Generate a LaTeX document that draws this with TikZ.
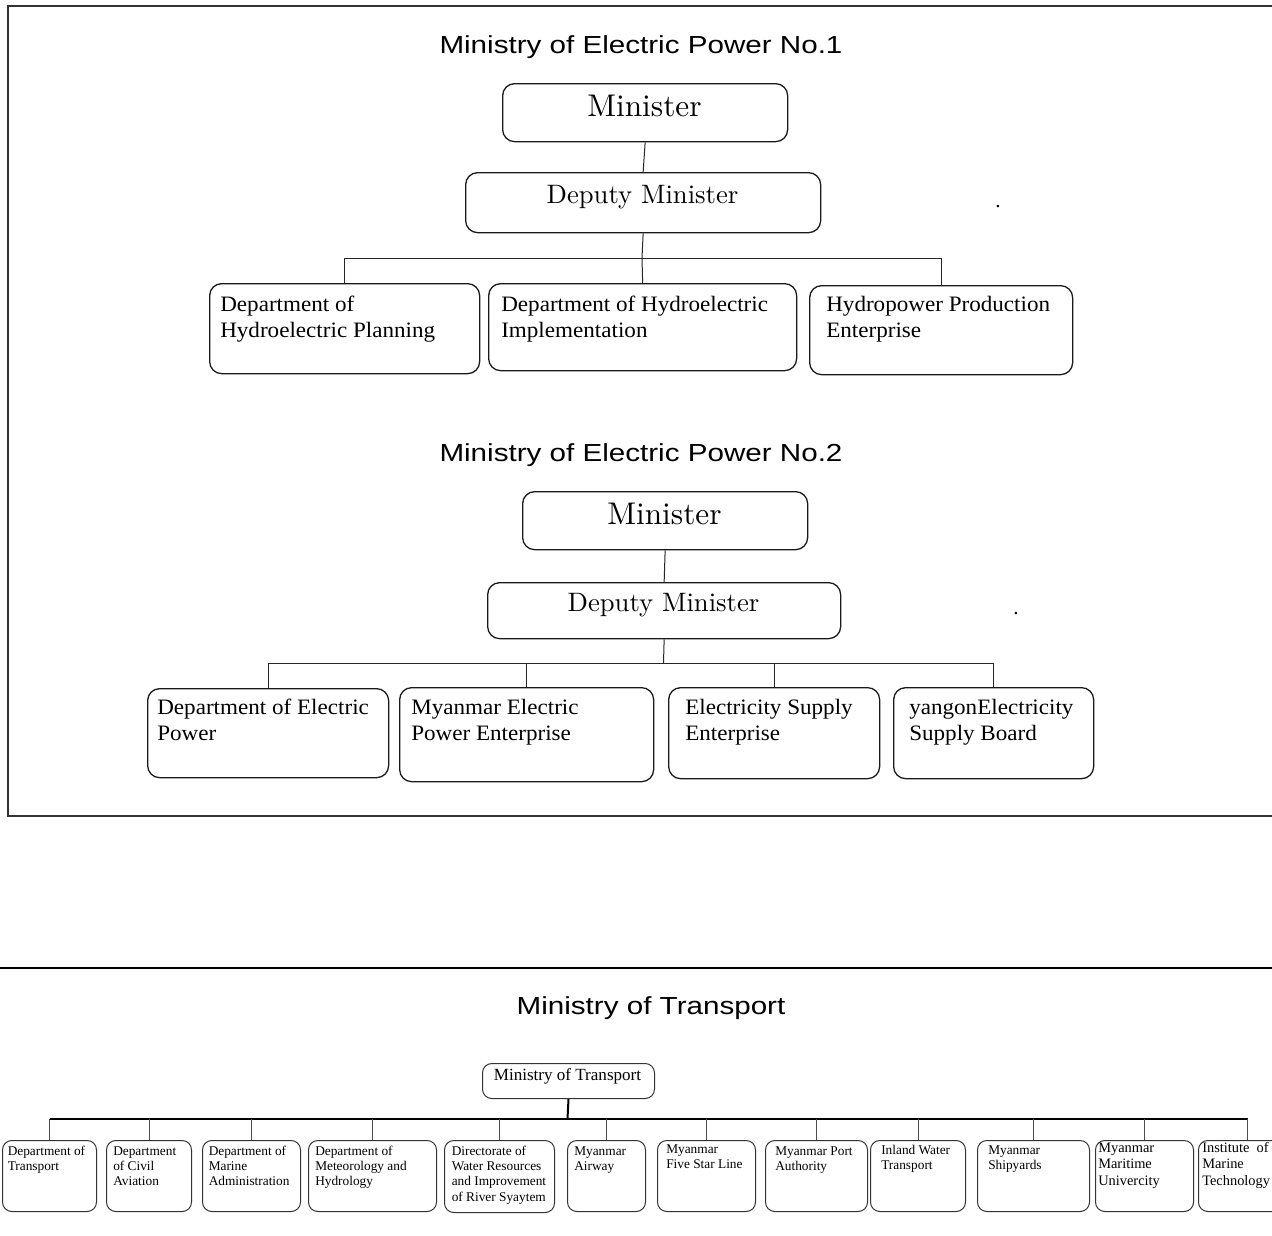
\documentclass[tikz,border=0pt]{standalone}
\usepackage{fontspec}
\newfontfamily\serifB{Liberation Serif}
\newfontfamily\serifC[FakeStretch=1.05]{Liberation Serif}
\newfontfamily\lmten[Extension=.otf]{lmroman10-regular}
\newfontfamily\titlefont[FakeStretch=1.2]{Liberation Sans}
\def\pxu{0.75pt}
\tikzset{
  frame/.style={line width=1.5*\pxu, draw=black!80},
  ttl/.style={font=\titlefont\fontsize{18.5}{22}\selectfont, inner sep=0pt, anchor=base},
  bigbox/.style={draw=black!90, line width=1.3*\pxu, rounded corners=9pt, inner sep=0pt},
  smallbox/.style={draw=black!80, line width=1*\pxu, rounded corners=7pt, inner sep=0pt},
  lmtxt/.style={font=\lmten\fontsize{#1}{#1}\selectfont, inner sep=0pt, anchor=base},
  deptxt/.style={font=\serifC\fontsize{16.5}{19.5}\selectfont, inner sep=0pt, anchor=base west},
  smtxt/.style={font=\serifB\fontsize{10}{11.6}\selectfont, inner sep=0pt, anchor=base west},
  smtxtb/.style={font=\serifB\fontsize{10.8}{12.5}\selectfont, inner sep=0pt, anchor=base west},
  conn/.style={draw=black!85, line width=1*\pxu},
  sconn/.style={draw=black!70, line width=1*\pxu},
  bus/.style={draw=black, line width=1.8*\pxu},
}
\newcommand{\bgbox}[5]{\node[bigbox, anchor=north west, minimum width={(#4-#2)*\pxu}, minimum height={(#5-#3)*\pxu}] (#1) at (#2,#3) {};}
\newcommand{\smbox}[5]{\node[smallbox, anchor=north west, minimum width={(#4-#2)*\pxu}, minimum height={(#5-#3)*\pxu}] (#1) at (#2,#3) {};}
\newcommand{\mylines}[1]{\begin{tabular}[t]{@{}l@{}}#1\end{tabular}}
\begin{document}
\begin{tikzpicture}[x=0.75pt, y=-0.75pt]
\useasboundingbox (0,0) rectangle (1272,1236);
% ---------------- frame ----------------
\draw[frame] (1290,6) -- (8,6) -- (8,816) -- (1290,816);
% ---------------- Ministry No.1 ----------------
\node[ttl] (title1) at (641,53.5) {Ministry of Electric Power No.1};
\bgbox{min1}{502}{83}{787}{141}
\node[lmtxt=23.5] (min1t) at (644.5,116.7) {Minister};
\bgbox{dep1}{465}{172}{820}{232}
\node[lmtxt=20] (dep1t) at (642.5,203.3) {Deputy Minister};
\bgbox{bA}{209}{283}{479}{373}
\node[deptxt] (bAt) at (220,311) {\mylines{Department of\\Hydroelectric Planning}};
\bgbox{bB}{488}{283}{796}{370}
\node[deptxt] (bBt) at (501,311) {\mylines{Department of Hydroelectric\\Implementation}};
\bgbox{bC}{809}{285}{1072}{374}
\node[deptxt] (bCt) at (826,311) {\mylines{Hydropower Production\\Enterprise}};
\node[font=\serifB\fontsize{16}{19}\selectfont, inner sep=0pt, anchor=base] (dot1) at (998,207) {.};
\coordinate (bus1) at (642,258);
\draw[conn] (min1.south) -- (dep1.north);
\draw[conn] (dep1.south) -- (bus1);
\draw[conn] (bA.north) |- (bus1);
\draw[conn] (bC.north) |- (bus1);
\draw[conn] (bus1) -- (bB.north);
% ---------------- Ministry No.2 ----------------
\node[ttl] (title2) at (641,461) {Ministry of Electric Power No.2};
\bgbox{min2}{522}{491}{807}{549}
\node[lmtxt=23.5] (min2t) at (664.5,524.5) {Minister};
\bgbox{dep2}{487}{582}{840}{638}
\node[lmtxt=20] (dep2t) at (663.5,611) {Deputy Minister};
\node[font=\serifB\fontsize{16}{19}\selectfont, inner sep=0pt, anchor=base] (dot2) at (1016,614) {.};
\bgbox{cA}{147}{688}{388}{777}
\node[deptxt] (cAt) at (157,714) {\mylines{Department of Electric\\Power}};
\bgbox{cB}{399}{687}{653}{781}
\node[deptxt] (cBt) at (411,714) {\mylines{Myanmar Electric\\Power Enterprise}};
\bgbox{cC}{668}{687}{879}{778}
\node[deptxt] (cCt) at (685,714) {\mylines{Electricity Supply\\Enterprise}};
\bgbox{cD}{893}{687}{1093}{778}
\node[deptxt] (cDt) at (909,714) {\mylines{yangonElectricity\\Supply Board}};
\coordinate (bus2) at (663.5,663);
\draw[conn] (min2.south) -- (dep2.north);
\draw[conn] (dep2.south) -- (bus2);
\draw[conn] (cA.north) |- (bus2);
\draw[conn] (cD.north) |- (bus2);
\draw[conn] (cB.north) -- (cB.north |- bus2);
\draw[conn] (cC.north) -- (cC.north |- bus2);
% ---------------- Ministry of Transport ----------------
\draw[line width=2*\pxu] (-5,968) -- (1280,968);
\node[ttl] (title3) at (651,1014) {Ministry of Transport};
\smbox{mt}{482}{1063}{654}{1098}
\node[font=\serifB\fontsize{12.8}{14}\selectfont, inner sep=0pt, anchor=base] (mtt) at (567.5,1080.7) {Ministry of Transport};
\smbox{d1}{2}{1140}{96}{1211}
\node[smtxt] (d1t) at (7.5,1155) {\mylines{Department of\\Transport}};
\smbox{d2}{106}{1140}{191}{1211}
\node[smtxt] (d2t) at (113,1155) {\mylines{Department\\of Civil\\Aviation}};
\smbox{d3}{202}{1140}{300}{1211}
\node[smtxt] (d3t) at (208.5,1155) {\mylines{Department of\\Marine\\Administration}};
\smbox{d4}{308}{1140}{436}{1211}
\node[smtxt] (d4t) at (315,1155) {\mylines{Department of\\Meteorology and\\Hydrology}};
\smbox{d5}{444}{1140}{554}{1212}
\node[smtxt] (d5t) at (451.5,1155) {\mylines{Directorate of\\Water Resources\\and Improvement\\of River Syaytem}};
\smbox{d6}{567}{1140}{645}{1211}
\node[smtxt] (d6t) at (574,1155) {\mylines{Myanmar\\Airway}};
\smbox{d7}{657}{1140}{755}{1211}
\node[smtxt] (d7t) at (666,1153) {\mylines{Myanmar\\Five Star Line}};
\smbox{d8}{765}{1140}{867}{1211}
\node[smtxt] (d8t) at (775,1155) {\mylines{Myanmar Port\\Authority}};
\smbox{d9}{870}{1140}{965}{1211}
\node[smtxt] (d9t) at (881,1154) {\mylines{Inland Water\\Transport}};
\smbox{d10}{977}{1140}{1089}{1211}
\node[smtxt] (d10t) at (988,1154) {\mylines{Myanmar\\Shipyards}};
\smbox{d11}{1095}{1140}{1193}{1211}
\node[smtxtb] (d11t) at (1098,1152) {\mylines{Myanmar\\Maritime\\Univercity}};
\smbox{d12}{1198}{1140}{1296}{1211}
\node[smtxtb] (d12t) at (1202,1152) {\mylines{Institute\ \ of\\Marine\\Technology}};
\coordinate (bus3) at (567.5,1119);
\draw[line width=2*\pxu] (mt.south) -- (bus3);
\draw[bus] (d1.north |- bus3) -- (d12.north |- bus3);
\foreach \n in {d1,d2,d3,d4,d5,d6,d7,d8,d9,d10,d11,d12}
  \draw[sconn] (\n.north) -- (\n.north |- bus3);
\end{tikzpicture}
\end{document}
